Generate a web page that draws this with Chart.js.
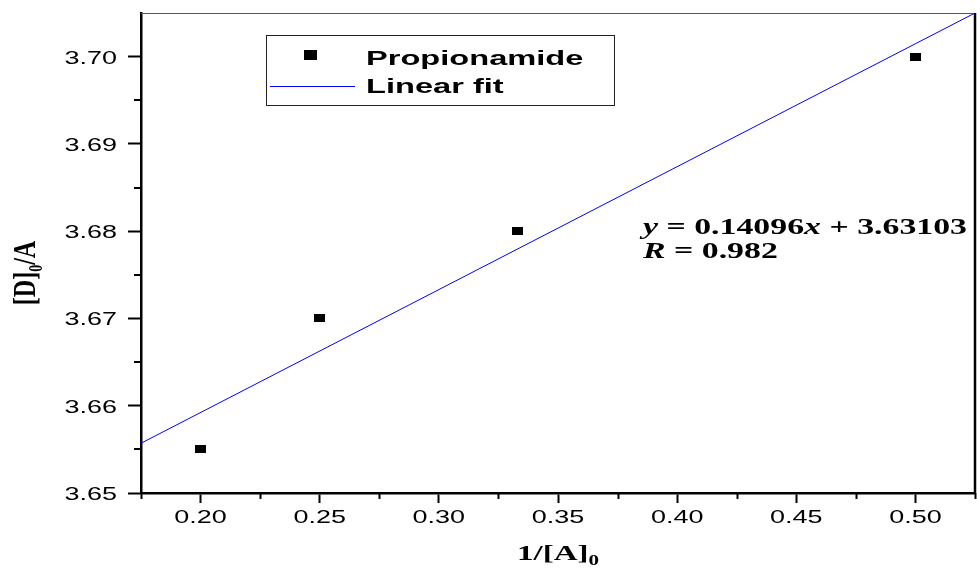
<!DOCTYPE html>
<html>
<head>
<meta charset="utf-8">
<script src="https://cdn.jsdelivr.net/npm/chart.js@4.4.0/dist/chart.umd.min.js"></script>
<style>
  html, body { margin: 0; padding: 0; background: #fff; overflow: hidden; }
  #wrap { width: 977px; height: 574px; overflow: hidden; }
  canvas { display: block; }
</style>
</head>
<body>
<div id="wrap"><canvas id="c" width="982" height="574"></canvas></div>
<script>
// values
var pointX = [0.200, 0.250, 0.333, 0.500];
var pointY = [3.655, 3.670, 3.680, 3.700];
var fitX = [0.175, 0.525];
var fitY = [3.6557, 3.7050];
var xTicks = [0.20, 0.25, 0.30, 0.35, 0.40, 0.45, 0.50];
var yTicks = [3.65, 3.66, 3.67, 3.68, 3.69, 3.70];
var xMinor = [0.175, 0.225, 0.275, 0.325, 0.375, 0.425, 0.475, 0.525];
var yMinor = [3.655, 3.665, 3.675, 3.685, 3.695];

var SANS = '"Liberation Sans", Arial, sans-serif';
var SERIF = '"Liberation Serif", "Times New Roman", serif';

// black rectangle used as the point marker
function rectMarker(w, h) {
  let cv = document.createElement('canvas');
  cv.width = w;
  cv.height = h;
  let g = cv.getContext('2d');
  g.fillStyle = '#000';
  g.fillRect(0, 0, w, h);
  return cv;
}

// draw text made of parts, stretched horizontally by sx
function drawParts(ctx, parts, x, y, sx, align) {
  let w = 0;
  parts.forEach(function(p) {
    ctx.font = p.font;
    p.w = ctx.measureText(p.t).width;
    w += p.w;
  });
  let x0 = x;
  if (align == 'center') x0 = x - w * sx / 2;
  if (align == 'right') x0 = x - w * sx;
  ctx.save();
  ctx.translate(x0, y);
  ctx.scale(sx, 1);
  let cx = 0;
  parts.forEach(function(p) {
    ctx.font = p.font;
    ctx.fillText(p.t, cx, p.dy || 0);
    cx += p.w;
  });
  ctx.restore();
}

var decorPlugin = {
  id: 'decor',
  afterDraw: function(chart) {
    let ctx = chart.ctx;
    let a = chart.chartArea;
    let xs = chart.scales.x;
    let ys = chart.scales.y;
    ctx.save();
    ctx.fillStyle = '#000';
    ctx.textBaseline = 'alphabetic';

    // top and right frame
    ctx.strokeStyle = '#555';
    ctx.lineWidth = 1;
    ctx.beginPath();
    ctx.moveTo(a.left, a.top + 0.5);
    ctx.lineTo(a.right, a.top + 0.5);
    ctx.stroke();
    ctx.strokeStyle = '#000';
    ctx.lineWidth = 2.5;
    ctx.beginPath();
    ctx.moveTo(a.right, a.top);
    ctx.lineTo(a.right, a.bottom);
    ctx.stroke();

    // minor ticks
    ctx.lineWidth = 2;
    ctx.beginPath();
    xMinor.forEach(function(v) {
      let px = Math.round(xs.getPixelForValue(v)) + 0.5;
      ctx.moveTo(px, a.bottom);
      ctx.lineTo(px, a.bottom + 6);
    });
    yMinor.forEach(function(v) {
      let py = Math.round(ys.getPixelForValue(v));
      ctx.moveTo(a.left, py);
      ctx.lineTo(a.left - 7, py);
    });
    ctx.stroke();

    // tick labels
    let tickFont = '19px ' + SANS;
    xs.ticks.forEach(function(t) {
      drawParts(ctx, [{t: t.value.toFixed(2), font: tickFont}], xs.getPixelForValue(t.value), 523, 1.42, 'center');
    });
    yTicks.forEach(function(v) {
      drawParts(ctx, [{t: v.toFixed(2), font: tickFont}], 117, ys.getPixelForValue(v) + 7, 1.42, 'right');
    });

    // axis titles
    let tFont = 'bold 22px ' + SERIF;
    let sFont = 'bold 14px ' + SERIF;
    drawParts(ctx, [{t: '1/[A]', font: tFont}, {t: '0', font: sFont, dy: 5}], 558, 560, 1.5, 'center');

    ctx.save();
    ctx.translate(35, 273);
    ctx.rotate(-Math.PI / 2);
    ctx.scale(1, 1.3);
    drawParts(ctx, [{t: '[D]', font: 'bold 24px ' + SERIF}, {t: '0', font: 'bold 14px ' + SERIF, dy: 5}, {t: '/A', font: 'bold 24px ' + SERIF}], 0, 0, 1, 'center');
    ctx.restore();

    // legend box
    ctx.strokeStyle = '#222';
    ctx.lineWidth = 1;
    ctx.strokeRect(266.5, 35.5, 348, 70);
    let lg = 'bold 20px ' + SANS;
    let ds = chart.data.datasets;
    ctx.fillRect(304, 50, 13, 10);
    drawParts(ctx, [{t: ds[0].label, font: lg}], 366, 65, 1.63, 'left');
    ctx.strokeStyle = ds[1].borderColor;
    ctx.beginPath();
    ctx.moveTo(270, 86.5);
    ctx.lineTo(355, 86.5);
    ctx.stroke();
    drawParts(ctx, [{t: ds[1].label, font: lg}], 366, 93, 1.63, 'left');

    // fit equation
    let eb = 'bold 23px ' + SERIF;
    let ei = 'italic bold 23px ' + SERIF;
    drawParts(ctx, [{t: 'y', font: ei}, {t: ' = 0.14096', font: eb}, {t: 'x', font: ei}, {t: ' + 3.63103', font: eb}], 643, 234, 1.47, 'left');
    drawParts(ctx, [{t: 'R', font: ei}, {t: ' = 0.982', font: eb}], 643, 258, 1.47, 'left');

    ctx.restore();
  }
};

var ctx1 = document.getElementById('c').getContext('2d');

new Chart(ctx1, {
  type: 'scatter',
  plugins: [decorPlugin],
  data: {
    datasets: [
      {
        label: 'Propionamide',
        data: pointX.map(function(x, i) { return {x: x, y: pointY[i]}; }),
        pointStyle: rectMarker(11, 8),
        pointRadius: 6,
        showLine: false,
        order: 1,
      },
      {
        label: 'Linear fit',
        type: 'line',
        data: fitX.map(function(x, i) { return {x: x, y: fitY[i]}; }),
        borderColor: '#0000ff',
        borderWidth: 1,
        pointRadius: 0,
        fill: false,
        order: 2,
      },
    ],
  },
  options: {
    responsive: false,
    devicePixelRatio: 1,
    animation: false,
    events: [],
    layout: {
      padding: { top: 13, right: 2, left: 0, bottom: 0 },
    },
    scales: {
      x: {
        type: 'linear',
        min: 0.175,
        max: 0.525,
        afterBuildTicks: function(scale) {
          scale.ticks = xTicks.map(function(v) { return {value: v}; });
        },
        afterFit: function(scale) {
          scale.height = 81;
        },
        ticks: { display: false },
        grid: {
          drawOnChartArea: false,
          tickLength: 10,
          tickWidth: 2,
          tickColor: '#000',
        },
        border: { color: '#000', width: 2.5 },
      },
      y: {
        type: 'linear',
        min: 3.65,
        max: 3.705,
        afterBuildTicks: function(scale) {
          scale.ticks = yTicks.map(function(v) { return {value: v}; });
        },
        afterFit: function(scale) {
          scale.width = 141;
        },
        ticks: { display: false },
        grid: {
          drawOnChartArea: false,
          tickLength: 13,
          tickWidth: 2,
          tickColor: '#000',
        },
        border: { color: '#000', width: 2.5 },
      },
    },
    plugins: {
      legend: { display: false },
      tooltip: { enabled: false },
    },
  },
});
</script>
</body>
</html>
